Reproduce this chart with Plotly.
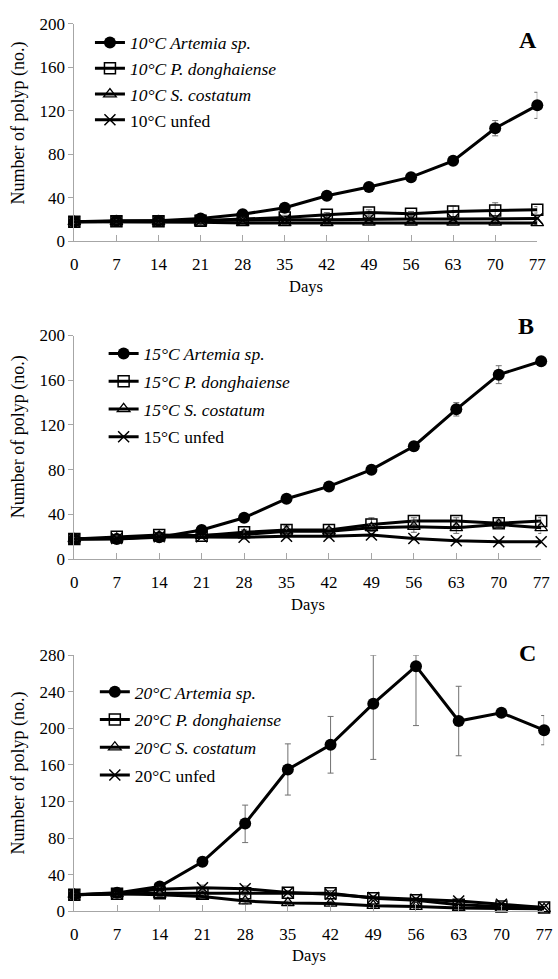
import plotly.graph_objects as go

days = [0, 7, 14, 21, 28, 35, 42, 49, 56, 63, 70, 77]

# Panel A (10 °C)
art_A = [18, 19, 19, 21, 25, 31, 42, 50, 59, 74, 104, 125]
art_A_err = [1, 1, 1, 1.5, 2, 2, 2.5, 2.5, 3, 3, 7, 12]
don_A = [18, 18.5, 18.5, 19, 20.5, 22, 24.5, 26.5, 25.5, 27.5, 28.5, 29]
don_A_err = [1, 1, 1, 1, 1.5, 2, 2, 2.5, 2, 5, 7, 3]
cos_A = [18, 18, 18, 17.5, 17, 17, 17, 17.5, 17.5, 17.5, 17.5, 17]
cos_A_err = [1, 1, 1, 1, 1.5, 1.5, 1.5, 1.5, 1.5, 1.5, 1.5, 1.5]
unf_A = [18, 18.5, 18.5, 19, 19.5, 20, 20, 20.5, 20.5, 20.5, 21, 21]
unf_A_err = [1, 1, 1, 1, 1.5, 1.5, 1.5, 1.5, 1.5, 1.5, 1.5, 1.5]

# Panel B (15 °C)
art_B = [18, 18, 19.5, 26, 37, 54, 65, 80, 101, 134, 165, 177]
art_B_err = [1, 1, 1, 2, 2, 2.5, 2.5, 2.5, 4, 6, 8, 3]
don_B = [18, 20, 21.5, 21, 24, 26, 26, 31, 34, 34, 32, 34]
don_B_err = [1, 1, 1, 1, 2, 3, 2, 6, 3, 3, 3, 3]
cos_B = [18, 18.5, 20.5, 21, 22, 25, 25, 28, 29, 28, 31, 28]
cos_B_err = [1, 1, 1, 1, 4, 5, 2, 3, 5, 5, 3, 5]
unf_B = [18, 18.5, 20, 20, 19.5, 20.5, 20.5, 21.5, 18.5, 16.5, 15.5, 15.5]
unf_B_err = [1, 1, 1, 1, 1.5, 1.5, 1.5, 1.5, 1.5, 1.5, 1.5, 1.5]

# Panel C (20 °C)
art_C = [18, 20, 27, 54, 96, 155, 182, 227, 268, 208, 217, 198]
art_C_err_plus = [1, 1, 2, 5, 20, 28, 31, 53, 12, 38, 3, 16]
art_C_err_minus = [1, 1, 2, 5, 21, 28, 31, 61, 65, 38, 3, 16]
don_C = [18, 19, 19.5, 19.5, 19.5, 20, 19.5, 14, 12, 7, 5, 4]
don_C_err = [1, 1, 2, 2, 2, 2, 3, 2, 2, 2, 1.5, 1]
cos_C = [18, 19, 18, 16, 11, 9, 8.5, 6, 5, 3.5, 3, 2.5]
cos_C_err = [1, 1, 2, 2, 3, 2, 2, 2, 2, 1.5, 1, 1]
unf_C = [18, 19, 24, 25.5, 24.5, 20.5, 18.5, 15, 13, 11, 7.5, 4]
unf_C_err = [1, 1, 2, 3, 3, 2, 2, 2, 2, 2, 2, 1]

temps = ["10", "15", "20"]
letters = ["A", "B", "C"]
y_ranges = [[0, 200], [0, 200], [0, 280]]

FONT = "Liberation Serif"
AXC = "#A6A6A6"

# layout geometry (pixels of the 558x979 canvas)
W, H = 558, 979
x_dom_px = [(72, 546), (72, 550), (72, 553)]
y_dom_px = [(15, 237), (333, 561), (659, 920)]
legend_px = [(88, 16), (102, 333), (93, 678)]
legend_gap = [0, 2, 2]
letter_px = [(536, 32), (534, 323), (536, 657)]
ytitle_px = [(15, 116), (15, 436), (15, 779)]
days_px = [283, 607, 965]

fig = go.Figure()

panels = [
    (art_A, art_A_err, art_A_err, don_A, don_A_err, cos_A, cos_A_err, unf_A, unf_A_err),
    (art_B, art_B_err, art_B_err, don_B, don_B_err, cos_B, cos_B_err, unf_B, unf_B_err),
    (art_C, art_C_err_plus, art_C_err_minus, don_C, don_C_err, cos_C, cos_C_err, unf_C, unf_C_err),
]

err_style = dict(type="data", color="#707070", thickness=1, width=3, visible=True)

for i, p in enumerate(panels):
    art, ap, am, don, de, cos, ce, unf, ue = p
    t = temps[i]
    xa = "x" if i == 0 else f"x{i+1}"
    ya = "y" if i == 0 else f"y{i+1}"
    lg = "legend" if i == 0 else f"legend{i+1}"
    specs = [
        (f"<i>{t}°C Artemia sp.</i>", art, ap, am, dict(symbol="circle", size=12, color="black")),
        (f"<i>{t}°C P. donghaiense</i>", don, de, de,
         dict(symbol="square-open", size=11, color="black", line=dict(width=1.5))),
        (f"<i>{t}°C S. costatum</i>", cos, ce, ce,
         dict(symbol="triangle-up-open", size=11, color="black", line=dict(width=1.3))),
        (f"{t}°C unfed", unf, ue, ue,
         dict(symbol="x-thin-open", size=11, color="black", line=dict(width=1.5))),
    ]
    for j, (name, yv, ep, em, mk) in enumerate(specs):
        fig.add_trace(go.Scatter(
            x=days, y=yv, name=name, mode="lines+markers",
            line=dict(color="black", width=3),
            marker=mk,
            error_y=dict(array=ep, arrayminus=em, symmetric=False, **err_style),
            xaxis=xa, yaxis=ya, legend=lg, legendgroup=f"g{i}{j}",
            cliponaxis=False,
        ))

layout = dict(
    width=W, height=H,
    margin=dict(l=0, r=0, t=0, b=0),
    paper_bgcolor="white", plot_bgcolor="white",
    font=dict(family=FONT, size=16, color="black"),
    showlegend=True,
)

annotations = []
for i in range(3):
    suf = "" if i == 0 else str(i + 1)
    x0, x1 = x_dom_px[i]
    y0, y1 = y_dom_px[i]
    layout[f"xaxis{suf}"] = dict(
        domain=[x0 / W, x1 / W], range=[0, 77], tickvals=days,
        showline=True, linecolor=AXC, linewidth=1,
        ticks="inside", ticklen=6, tickcolor=AXC, tickwidth=1,
        showgrid=False, zeroline=False,
        tickfont=dict(family=FONT, size=17, color="black"),
        ticklabelstandoff=7,
        anchor="y" + suf, fixedrange=True,
    )
    layout[f"yaxis{suf}"] = dict(
        domain=[1 - y1 / H, 1 - y0 / H], range=y_ranges[i], dtick=40,
        showline=True, linecolor=AXC, linewidth=1,
        ticks="outside", ticklen=5, tickcolor=AXC, tickwidth=1,
        showgrid=False, zeroline=False,
        tickfont=dict(family=FONT, size=17, color="black"),
        anchor="x" + suf, fixedrange=True,
    )
    lx, ly = legend_px[i]
    layout["legend" if i == 0 else f"legend{i+1}"] = dict(
        x=lx / W, y=1 - ly / H, xanchor="left", yanchor="top",
        xref="paper", yref="paper",
        bgcolor="rgba(0,0,0,0)", borderwidth=0,
        font=dict(family=FONT, size=17.5, color="black"),
        tracegroupgap=legend_gap[i], itemwidth=30,
    )
    tx, ty = letter_px[i]
    annotations.append(dict(
        x=tx / W, y=1 - ty / H, xref="paper", yref="paper",
        text=f"<b>{letters[i]}</b>", showarrow=False,
        font=dict(family=FONT, size=24, color="black"),
        xanchor="center", yanchor="middle",
    ))
    ax, ay = ytitle_px[i]
    annotations.append(dict(
        x=ax / W, y=1 - ay / H, xref="paper", yref="paper",
        text="Number of polyp (no.)", showarrow=False, textangle=-90,
        font=dict(family=FONT, size=18, color="black"),
        xanchor="center", yanchor="middle",
    ))
    annotations.append(dict(
        x=(x0 + x1) / 2 / W, y=1 - days_px[i] / H, xref="paper", yref="paper",
        text="Days", showarrow=False,
        font=dict(family=FONT, size=16.5, color="black"),
        xanchor="center", yanchor="middle",
    ))

layout["annotations"] = annotations
fig.update_layout(**layout)

fig.write_html(
    "out.html",
    config={"displayModeBar": False},
    post_script="document.body.style.margin='0px';document.body.style.overflow='hidden';",
)
